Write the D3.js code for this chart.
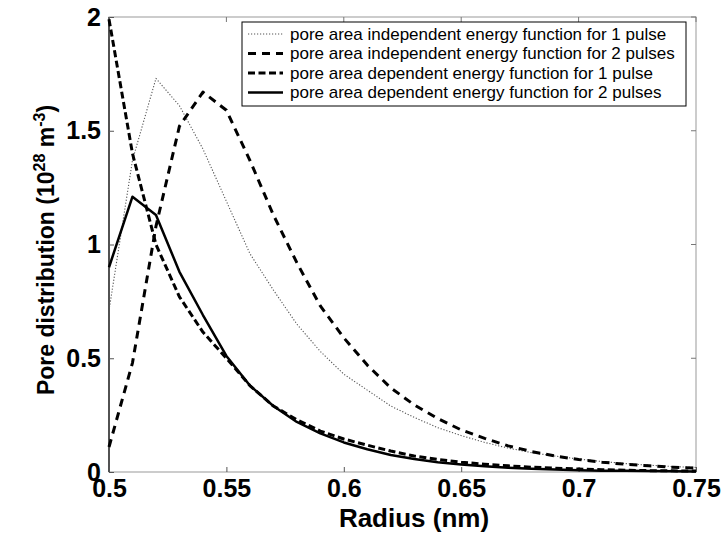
<!DOCTYPE html>
<html><head><meta charset="utf-8">
<script src="https://cdn.jsdelivr.net/npm/d3@7"></script>
<style>body{margin:0;background:#fff}svg{display:block}</style>
</head><body>
<svg id="c" width="726" height="535"></svg>
<script>
const radius = [0.50,0.51,0.52,0.53,0.54,0.55,0.56,0.57,0.58,0.59,0.60,0.61,0.62,0.63,0.64,0.65,0.66,0.67,0.68,0.69,0.70,0.71,0.72,0.73,0.74,0.75];
const indep1 = [0.71,1.37,1.73,1.61,1.42,1.19,0.96,0.80,0.65,0.53,0.43,0.36,0.29,0.24,0.195,0.16,0.13,0.105,0.085,0.07,0.057,0.046,0.037,0.03,0.024,0.02];
const indep2 = [0.11,0.48,1.08,1.52,1.67,1.59,1.37,1.13,0.92,0.73,0.59,0.47,0.37,0.295,0.235,0.185,0.148,0.115,0.09,0.07,0.055,0.043,0.034,0.027,0.021,0.017];
const dep1 = [1.99,1.40,1.00,0.77,0.615,0.50,0.38,0.29,0.23,0.18,0.145,0.118,0.092,0.07,0.055,0.043,0.034,0.027,0.021,0.017,0.013,0.01,0.008,0.006,0.005,0.004];
const dep2 = [0.90,1.21,1.13,0.88,0.69,0.51,0.38,0.29,0.22,0.17,0.13,0.10,0.075,0.057,0.043,0.033,0.025,0.019,0.014,0.011,0.008,0.006,0.005,0.004,0.003,0.002];
const xTicks = [0.5,0.55,0.6,0.65,0.7,0.75];
const yTicks = [0,0.5,1,1.5,2];
const xTickLabels = ["0.5","0.55","0.6","0.65","0.7","0.75"];
const yTickLabels = ["0","0.5","1","1.5","2"];
const legendLabels = [
  "pore area independent energy function for 1 pulse",
  "pore area independent energy function for 2 pulses",
  "pore area dependent energy function for 1 pulse",
  "pore area dependent energy function for 2 pulses"
];

const svg = d3.select("#c");
const L = 109, R = 696, T = 17, B = 472;
const x = d3.scaleLinear().domain([0.5,0.75]).range([L,R]);
const y = d3.scaleLinear().domain([0,2]).range([B,T]);

const styles = [
  {w:1.1, dash:"1.2,1.8", color:"#555"},
  {w:3, dash:"8,6", color:"#000"},
  {w:3, dash:"7,3.5", color:"#000"},
  {w:2.5, dash:null, color:"#000"}
];
const series = [indep1, indep2, dep1, dep2];

// frame
svg.append("rect").attr("x",L).attr("y",T).attr("width",R-L).attr("height",B-T)
  .attr("fill","none").attr("stroke","#999").attr("stroke-width",1);
svg.append("line").attr("x1",L).attr("x2",L).attr("y1",T).attr("y2",B).attr("stroke","#000").attr("stroke-width",1.2);

const fontT = "'Liberation Sans', Arial, sans-serif";

// axes
const xAxis = d3.axisBottom(x).tickValues(xTicks).tickSize(5).tickPadding(4)
  .tickFormat((d,i)=>xTickLabels[i]);
const gx = svg.append("g").attr("transform",`translate(0,${B})`).call(xAxis);
gx.select(".domain").remove();
gx.selectAll(".tick line").attr("y2",-5).attr("stroke","#555");
gx.selectAll(".tick text").attr("y",7).attr("dy","0.71em")
  .style("font-family",fontT).style("font-weight","bold").style("font-size","25px").attr("fill","#000");

const yAxis = d3.axisLeft(y).tickValues(yTicks).tickSize(5).tickPadding(8)
  .tickFormat((d,i)=>yTickLabels[i]);
const gy = svg.append("g").attr("transform",`translate(${L},0)`).call(yAxis);
gy.select(".domain").remove();
gy.selectAll(".tick line").attr("x2",5).attr("stroke","#555");
gy.selectAll(".tick text").attr("x",-8)
  .style("font-family",fontT).style("font-weight","bold").style("font-size","25px").attr("fill","#000");

// top & right ticks
svg.append("g").selectAll("line").data(xTicks).join("line")
  .attr("x1",d=>x(d)).attr("x2",d=>x(d)).attr("y1",T).attr("y2",T+5).attr("stroke","#777");
svg.append("g").selectAll("line").data(yTicks).join("line")
  .attr("x1",R).attr("x2",R-5).attr("y1",d=>y(d)).attr("y2",d=>y(d)).attr("stroke","#777");

// lines
const line = d3.line().x((d,i)=>x(radius[i])).y(d=>y(d));
series.forEach((s,k)=>{
  svg.append("path").datum(s).attr("d",line).attr("fill","none")
    .attr("stroke",styles[k].color).attr("stroke-width",styles[k].w)
    .attr("stroke-dasharray",styles[k].dash).attr("stroke-linejoin","round");
});

// legend
const lg = svg.append("g");
lg.append("rect").attr("x",242).attr("y",22).attr("width",444).attr("height",84)
  .attr("fill","#fff").attr("stroke","#000").attr("stroke-width",1);
legendLabels.forEach((t,k)=>{
  const yy = 34 + k*19.5;
  lg.append("line").attr("x1",248).attr("x2",283).attr("y1",yy).attr("y2",yy)
    .attr("stroke",styles[k].color).attr("stroke-width",styles[k].w)
    .attr("stroke-dasharray",styles[k].dash);
  lg.append("text").attr("x",290).attr("y",yy).attr("dy","0.35em")
    .style("font-family",fontT).style("font-size","17px").text(t);
});

// axis titles
svg.append("text").attr("x",414).attr("y",527).attr("text-anchor","middle")
  .style("font-family",fontT).style("font-weight","bold").style("font-size","26px").text("Radius (nm)");
const yt = svg.append("text").attr("transform","translate(54,250) rotate(-90)").attr("text-anchor","middle")
  .style("font-family",fontT).style("font-weight","bold").style("font-size","23px");
yt.append("tspan").text("Pore distribution (10");
yt.append("tspan").attr("dy",-9).style("font-size","16px").text("28");
yt.append("tspan").attr("dy",9).text(" m");
yt.append("tspan").attr("dy",-9).style("font-size","16px").text("-3");
yt.append("tspan").attr("dy",9).text(")");
</script>
</body></html>
